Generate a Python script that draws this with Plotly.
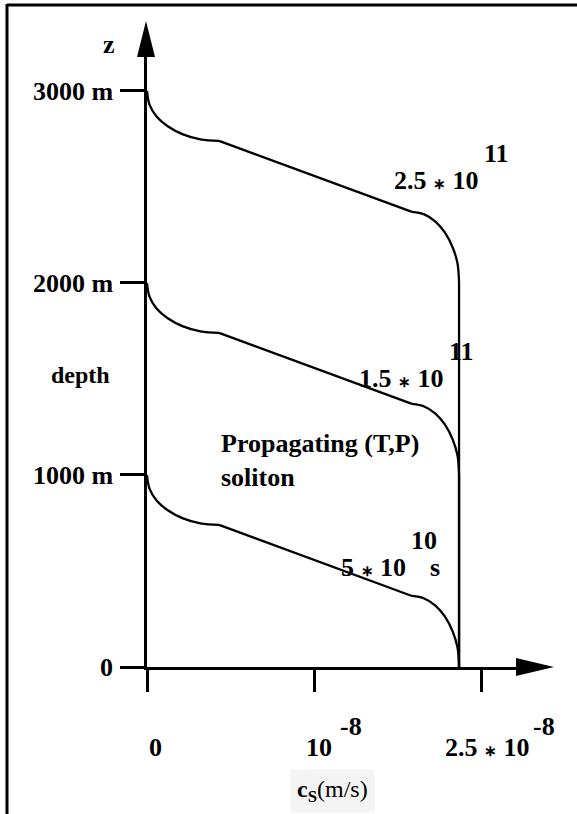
import plotly.graph_objects as go

# ---------------- data ----------------
# depth axis (m)
depth_ticks = [0, 1000, 2000, 3000]
depth_labels = ["0", "1000 m", "2000 m", "3000 m"]

# speed axis (schematic positions, labelled in m/s)
speed_ticks = [0, 1, 2]
STAR = "<span style='font-size:15px'>\u2217</span>"
speed_base = ["0", "10", "2.5 " + STAR + " 10"]
speed_exp = ["", "-8", "-8"]

# soliton profile: speed c (schematic units) vs. drop below the front (m)
arc_top_c = [0.000, 0.015, 0.057, 0.126, 0.215, 0.319, 0.430]
arc_top_drop = [0, 71, 133, 185, 226, 252, 260]
ramp_c = [0.430, 1.582]
ramp_drop = [260, 630]
arc_bot_c = [1.582, 1.655, 1.722, 1.780, 1.825, 1.854, 1.863]
arc_bot_drop = [630, 643, 680, 739, 815, 899, 1000]

# soliton fronts at three times
front_depth = [3000, 2000, 1000]
time_base = ["2.5 " + STAR + " 10", "1.5 " + STAR + " 10", "5 " + STAR + " 10"]
time_exp = ["11", "11", "10"]
time_unit = ["", "", "s"]

# ---------------- layout geometry ----------------
W, H = 577, 814
L, R, T, B = 147, 60, 57, 147
X_MAX = 2.209
Y_MAX = 3177
FONT = "Liberation Serif"


def px(x):
    return (x - L) / (W - L - R)


def py(y):
    return (H - B - y) / (H - T - B)


fig = go.Figure()
line = dict(color="black", width=2.3)

for top in front_depth:
    fig.add_trace(go.Scatter(x=arc_top_c, y=[top - d for d in arc_top_drop],
                             mode="lines", line=dict(shape="spline", **line),
                             hoverinfo="skip", showlegend=False))
    fig.add_trace(go.Scatter(x=ramp_c, y=[top - d for d in ramp_drop],
                             mode="lines", line=line,
                             hoverinfo="skip", showlegend=False))
    fig.add_trace(go.Scatter(x=arc_bot_c, y=[top - d for d in arc_bot_drop],
                             mode="lines", line=dict(shape="spline", **line),
                             hoverinfo="skip", showlegend=False))
    fig.add_trace(go.Scatter(x=[arc_bot_c[-1], arc_bot_c[-1]],
                             y=[top - arc_bot_drop[-1], 0],
                             mode="lines", line=line,
                             hoverinfo="skip", showlegend=False))

ann = []
bold = dict(family=FONT, size=26, color="black", weight="bold")
bold24 = dict(family=FONT, size=24, color="black", weight="bold")

# x tick labels
base_x = [155, 319, 487]
for xb, b in zip(base_x, speed_base):
    ann.append(dict(xref="paper", yref="paper", x=px(xb), y=py(747), text=b,
                    showarrow=False, xanchor="center", yanchor="middle", font=bold))
exp_x = [None, 351, 544]
for xe, e in zip(exp_x, speed_exp):
    if e:
        ann.append(dict(xref="paper", yref="paper", x=px(xe), y=py(726), text=e,
                        showarrow=False, xanchor="center", yanchor="middle", font=bold))

# soliton time labels
lab_right = [481, 446, 408]
lab_y = [180, 378, 567]
for k, top in enumerate(front_depth):
    ann.append(dict(xref="paper", yref="paper", x=px(lab_right[k]), y=py(lab_y[k]),
                    text=time_base[k], showarrow=False, xanchor="right",
                    yanchor="middle", font=bold))
    ann.append(dict(xref="paper", yref="paper", x=px(lab_right[k] + 1), y=py(lab_y[k] - 27),
                    text=time_exp[k], showarrow=False, xanchor="left",
                    yanchor="middle", font=bold))
    if time_unit[k]:
        ann.append(dict(xref="paper", yref="paper", x=px(lab_right[k] + 20), y=py(lab_y[k]),
                        text=time_unit[k], showarrow=False, xanchor="left",
                        yanchor="middle", font=bold))

ann += [
    dict(xref="paper", yref="paper", x=px(109), y=py(44), text="z", showarrow=False,
         xanchor="center", yanchor="middle", font=bold),
    dict(xref="paper", yref="paper", x=px(112), y=py(375), text="depth", showarrow=False,
         xanchor="right", yanchor="middle", font=bold24),
    dict(xref="paper", yref="paper", x=px(219), y=py(460),
         text="Propagating (T,P)<br>soliton", showarrow=False, align="left",
         xanchor="left", yanchor="middle", font=bold),
    dict(xref="paper", yref="paper", x=px(332), y=py(791),
         text="<b>c<sub>S</sub></b>(m/s)", showarrow=False,
         xanchor="center", yanchor="middle", bgcolor="#f4f4f4", borderpad=6,
         font=dict(family=FONT, size=24, color="black")),
]

shapes = [
    # frame
    dict(type="line", xref="paper", yref="paper", x0=px(7), x1=px(577), y0=py(5), y1=py(5),
         line=dict(color="black", width=3)),
    dict(type="line", xref="paper", yref="paper", x0=px(7), x1=px(7), y0=py(4), y1=py(814),
         line=dict(color="black", width=3)),
    # arrow heads
    dict(type="path", xref="paper", yref="paper", fillcolor="black", line=dict(width=0),
         path=f"M {px(137)} {py(57)} L {px(146)} {py(21)} L {px(155)} {py(57)} Z"),
    dict(type="path", xref="paper", yref="paper", fillcolor="black", line=dict(width=0),
         path=f"M {px(516)} {py(658)} L {px(554)} {py(667)} L {px(516)} {py(676)} Z"),
]

axis_common = dict(showgrid=False, zeroline=False, showline=True, linecolor="black",
                   linewidth=2.5, ticks="outside", tickcolor="black", tickwidth=2.5,
                   fixedrange=True)

fig.update_layout(
    width=W, height=H, autosize=False,
    margin=dict(l=L, r=R, t=T, b=B, pad=0),
    paper_bgcolor="white", plot_bgcolor="white",
    font=dict(family=FONT, size=26, color="black"),
    xaxis=dict(range=[0, X_MAX], tickvals=speed_ticks, ticklen=22,
               showticklabels=False, **axis_common),
    yaxis=dict(range=[0, Y_MAX], tickvals=depth_ticks, ticktext=depth_labels,
               ticklen=24, tickfont=bold, ticklabelstandoff=2, **axis_common),
    annotations=ann, shapes=shapes, showlegend=False,
)

fig.write_html("out.html", config={"displayModeBar": False},
               post_script="document.body.style.margin='0px';")
